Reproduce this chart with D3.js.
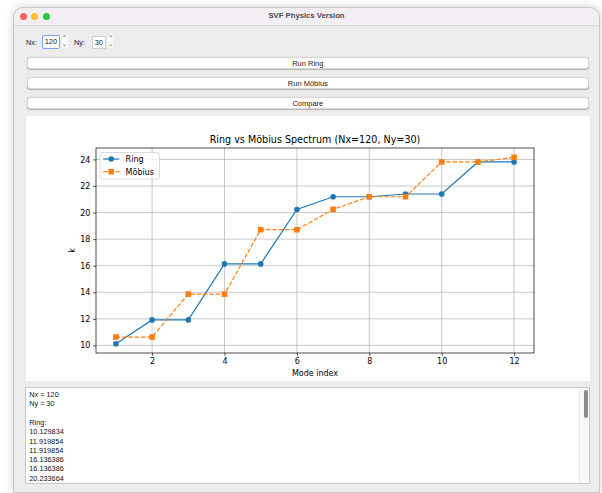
<!DOCTYPE html>
<html>
<head>
<meta charset="utf-8">
<script src="https://cdn.jsdelivr.net/npm/d3@7"></script>
<style>
  html, body { margin: 0; padding: 0; background: #ffffff; width: 602px; height: 493px; overflow: hidden; }
  body { position: relative; font-family: "Liberation Sans", Arial, sans-serif; }
  .win { position: absolute; left: 13px; top: 7px; width: 587px; height: 486px; background: #ececec;
         border: 1px solid #c9c9c9; border-radius: 10px 10px 0 0; box-shadow: 0 0 10px rgba(0,0,0,0.18); box-sizing: border-box; }
  .titlebar { position: absolute; left: 0; top: 0; right: 0; height: 17px; background: #f2eef4; border-bottom: 1px solid #d9d6db;
              border-radius: 10px 10px 0 0; text-align: center; font-weight: bold; font-size: 7.7px; line-height: 16px; color: #4b4b4b; }
  .light { position: absolute; top: 5.2px; width: 7px; height: 7px; border-radius: 50%; }
  .abs { position: absolute; }
  .lbl { font-size: 7.4px; color: #222; }
  .spin { background: #fff; border: 1px solid #cfcfcf; font-size: 7.4px; line-height: 12px; padding-left: 2px; box-sizing: border-box; color: #222; }
  .spin.focus { border: 1.5px solid #78a6ee; border-radius: 2px; }
  .arrows { font-size: 6px; line-height: 5.5px; color: #444; text-align: center; background: #fafafa; border-radius: 2px; }
  .btn { background: #fff; border-radius: 3.5px; box-shadow: 0 0.5px 1px rgba(0,0,0,0.25); border: 0.5px solid #d6d6d6;
         text-align: center; font-size: 7.5px; line-height: 11.5px; color: #1a1a1a; box-sizing: border-box; }
  .panel { background: #fff; }
  .textbox { background: #fff; border: 1px solid #c8c8c8; box-sizing: border-box; overflow: hidden; }
  .textbox pre { margin: 0; font-family: "Liberation Sans", Arial, sans-serif; font-size: 7.3px; line-height: 9.3px; color: #111;
                 position: absolute; left: 3px; top: 2.4px; }
</style>
</head>
<body>
<script>
// chart values
const modeIndex = [1, 2, 3, 4, 5, 6, 7, 8, 9, 10, 11, 12];
const ringK = [10.129834, 11.919854, 11.919854, 16.136386, 16.136386, 20.233664, 21.19, 21.19, 21.40, 21.40, 23.81, 23.81];
const mobiusK = [10.63, 10.63, 13.86, 13.86, 18.71, 18.71, 20.24, 21.19, 21.19, 23.81, 23.81, 24.16];
const xTicks = [2, 4, 6, 8, 10, 12];
const yTicks = [10, 12, 14, 16, 18, 20, 22, 24];
const seriesNames = ["Ring", "Möbius"];
const seriesColors = ["#1f77b4", "#ff7f0e"];
const nx = 120, ny = 30;

let body = d3.select("body");
let win = body.append("div").attr("class", "win");

// title bar
win.append("div").attr("class", "titlebar").text("SVF Physics Version");
[["#fe5f57", 5.5], ["#febc2e", 17.2], ["#28c840", 28.8]].forEach(function(d) {
	win.append("div").attr("class", "light").style("left", d[1] + "px").style("background", d[0]);
});

// page coords -> window coords
function place(sel, px, py, w, h)
{
	sel.style("left", (px - 14) + "px").style("top", (py - 8) + "px");
	if (w != null) sel.style("width", w + "px");
	if (h != null) sel.style("height", h + "px");
	return sel;
}

place(win.append("div").attr("class", "abs lbl").text("Nx:"), 26, 38);
place(win.append("div").attr("class", "abs spin focus").text(nx), 41.7, 35.3, 18.6, 13.4);
place(win.append("div").attr("class", "abs arrows").html("&#8963;<br>&#8964;"), 61.5, 36, 6, 12);
place(win.append("div").attr("class", "abs lbl").text("Ny:"), 74, 38);
place(win.append("div").attr("class", "abs spin").text(ny), 91.7, 35.5, 14.3, 13);
place(win.append("div").attr("class", "abs arrows").html("&#8963;<br>&#8964;"), 107.3, 36, 6, 12);

["Run Ring", "Run Möbius", "Compare"].forEach(function(t, i) {
	place(win.append("div").attr("class", "abs btn").text(t), 26.7, 57.3 + i*20, 562.3, 11.7);
});

// chart panel
let panelX = 26, panelY = 116, panelW = 564, panelH = 265;
let panel = place(win.append("div").attr("class", "abs panel"), panelX, panelY, panelW, panelH);

let svg = panel.append("svg").attr("width", panelW).attr("height", panelH)
	.style("position", "absolute").style("left", 0).style("top", 0)
	.style("font-family", "'DejaVu Sans', sans-serif");

let pL = 70, pR = 508, pT = 32, pB = 237;

let xExt = d3.extent(modeIndex);
let xPad = (xExt[1] - xExt[0]) * 0.05;
let x = d3.scaleLinear().domain([xExt[0] - xPad, xExt[1] + xPad]).range([pL, pR]);

let yExt = d3.extent(ringK.concat(mobiusK));
let yPad = (yExt[1] - yExt[0]) * 0.05;
let y = d3.scaleLinear().domain([yExt[0] - yPad, yExt[1] + yPad]).range([pB, pT]);

// grid
let grid = svg.append("g").attr("stroke", "#b0b0b0").attr("stroke-width", 0.7);
grid.selectAll("line.gx").data(xTicks).enter().append("line")
	.attr("x1", function(d) {return x(d);}).attr("x2", function(d) {return x(d);})
	.attr("y1", pT).attr("y2", pB);
grid.selectAll("line.gy").data(yTicks).enter().append("line")
	.attr("y1", function(d) {return y(d);}).attr("y2", function(d) {return y(d);})
	.attr("x1", pL).attr("x2", pR);

// axes
let xAxis = d3.axisBottom(x).tickValues(xTicks).tickSize(2.8).tickPadding(2.8);
let yAxis = d3.axisLeft(y).tickValues(yTicks).tickSize(2.8).tickPadding(2.8);
let gx = svg.append("g").attr("transform", "translate(0," + pB + ")").call(xAxis);
let gy = svg.append("g").attr("transform", "translate(" + pL + ",0)").call(yAxis);
[gx, gy].forEach(function(g) {
	g.select(".domain").remove();
	g.selectAll("line").attr("stroke", "#000").attr("stroke-width", 0.7);
	g.selectAll("text").attr("font-family", "'DejaVu Sans', sans-serif").attr("font-size", 8).attr("fill", "#000");
});

// lines + markers
let mr = 2.8;  // marker half size
let line = d3.line().x(function(d) {return x(d[0]);}).y(function(d) {return y(d[1]);});
let ringPts = d3.zip(modeIndex, ringK);
let mobPts = d3.zip(modeIndex, mobiusK);

svg.append("path").attr("d", line(ringPts)).attr("fill", "none")
	.attr("stroke", seriesColors[0]).attr("stroke-width", 1.2);
svg.selectAll("circle.ring").data(ringPts).enter().append("circle")
	.attr("cx", function(d) {return x(d[0]);}).attr("cy", function(d) {return y(d[1]);})
	.attr("r", mr).attr("fill", seriesColors[0]);

svg.append("path").attr("d", line(mobPts)).attr("fill", "none")
	.attr("stroke", seriesColors[1]).attr("stroke-width", 1.2).attr("stroke-dasharray", "4.4,1.9");
svg.selectAll("rect.mob").data(mobPts).enter().append("rect")
	.attr("x", function(d) {return x(d[0]) - mr;}).attr("y", function(d) {return y(d[1]) - mr;})
	.attr("width", 2*mr).attr("height", 2*mr).attr("fill", seriesColors[1]);

// frame
svg.append("rect").attr("x", pL).attr("y", pT).attr("width", pR - pL).attr("height", pB - pT)
	.attr("fill", "none").attr("stroke", "#000").attr("stroke-width", 0.7);

// texts
svg.append("text").attr("x", (pL + pR) / 2).attr("y", 27.3).attr("text-anchor", "middle")
	.attr("font-size", 9.6).attr("fill", "#000")
	.text("Ring vs Möbius Spectrum (Nx=" + nx + ", Ny=" + ny + ")");
svg.append("text").attr("x", (pL + pR) / 2).attr("y", 260.3).attr("text-anchor", "middle")
	.attr("font-size", 8).attr("fill", "#000").text("Mode index");
svg.append("text").attr("transform", "translate(48.5," + ((pT + pB) / 2) + ") rotate(-90)")
	.attr("text-anchor", "middle").attr("font-size", 8).attr("fill", "#000").text("k");

// legend
let lg = svg.append("g").attr("transform", "translate(74,36.5)");
lg.append("rect").attr("width", 59.5).attr("height", 26.5).attr("rx", 2)
	.attr("fill", "#fff").attr("fill-opacity", 0.8).attr("stroke", "#cccccc").attr("stroke-width", 0.7);
seriesNames.forEach(function(name, i) {
	let cy = 6.5 + i * 12.7;
	lg.append("line").attr("x1", 3.2).attr("x2", 19.2).attr("y1", cy).attr("y2", cy)
		.attr("stroke", seriesColors[i]).attr("stroke-width", 1.2)
		.attr("stroke-dasharray", i == 1 ? "4.4,1.9" : null);
	if (i == 0)
		lg.append("circle").attr("cx", 11.2).attr("cy", cy).attr("r", mr).attr("fill", seriesColors[i]);
	else
		lg.append("rect").attr("x", 11.2 - mr).attr("y", cy - mr).attr("width", 2*mr).attr("height", 2*mr).attr("fill", seriesColors[i]);
	lg.append("text").attr("x", 25.6).attr("y", cy).attr("dy", "0.35em")
		.attr("font-size", 8).attr("fill", "#000").text(name);
});

// output text box
let tb = place(win.append("div").attr("class", "abs textbox"), 25.3, 386.7, 564.7, 97.3);
let lines = ["Nx = " + nx, "Ny = " + ny, "", "Ring:"].concat(ringK.map(d3.format(".6f")));
tb.append("pre").text(lines.join("\n"));
tb.append("div").style("position", "absolute").style("right", 0).style("top", 0).style("bottom", 0)
	.style("width", "8.5px").style("background", "#f7f7f7").style("border-left", "1px solid #e6e6e6");
tb.append("div").style("position", "absolute").style("left", "557.5px").style("top", "2.5px")
	.style("width", "4.6px").style("height", "28px").style("border-radius", "2.3px").style("background", "#8c8c8c");
</script>
</body>
</html>
